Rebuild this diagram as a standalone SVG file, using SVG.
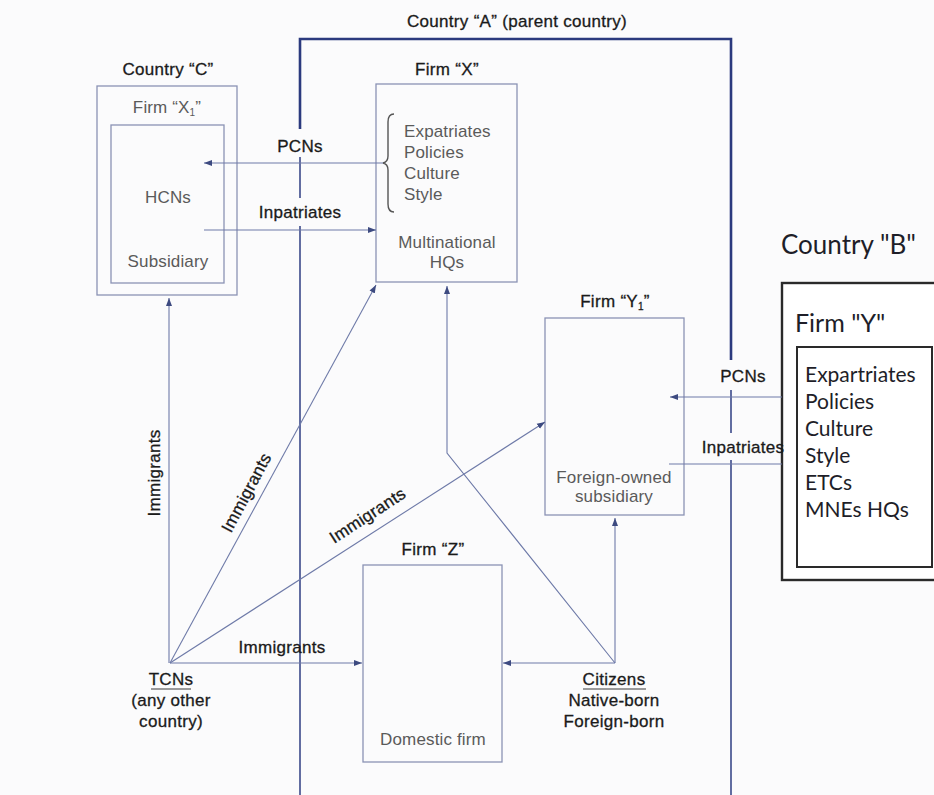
<svg xmlns="http://www.w3.org/2000/svg" width="934" height="795" viewBox="0 0 934 795">
<style>
.t{font-family:"Liberation Sans",Arial,sans-serif;font-size:17px;letter-spacing:0.3px;fill:#1a1a1a;stroke:#1a1a1a;stroke-width:0.3px;text-anchor:middle}
.g{font-family:"Liberation Sans",Arial,sans-serif;font-size:17px;letter-spacing:0.15px;fill:#5a5a5a;text-anchor:middle}
.c{font-family:Lato,"Noto Sans",sans-serif;fill:#1e1e28}
.box{fill:none;stroke:#8a92b4;stroke-width:1.3}
.ln{fill:none;stroke:#6e7aa8;stroke-width:1.1}
.thick{fill:none;stroke:#2b3a7e;stroke-width:2.6}
.med{fill:none;stroke:#3b4a8a;stroke-width:1.6}
.arr{marker-end:url(#ah)}
</style>
<defs>
<marker id="ah" markerUnits="userSpaceOnUse" markerWidth="9" markerHeight="7" refX="8" refY="3.5" orient="auto">
<path d="M0,0.5 L8,3.5 L0,6.5 z" fill="#3d4a80"/>
</marker>
</defs>
<rect width="934" height="795" fill="#fbfbfc"/>

<g id="country-a">
<text class="t" x="517" y="27">Country “A” (parent country)</text>
<path class="thick" d="M300,129 V39 H731 V360"/>
<line class="med" x1="300" y1="157" x2="300" y2="198" stroke-width="1.2"/>
<line class="med" x1="300" y1="226" x2="300" y2="795"/>
<line class="med" x1="731" y1="390" x2="731" y2="433" stroke-width="1.2"/>
<line class="med" x1="731" y1="460" x2="731" y2="795"/>
</g>

<g id="country-c">
<text class="t" x="168" y="75">Country “C”</text>
<rect class="box" x="97" y="86" width="140" height="209"/>
<text class="g" x="167" y="113">Firm “X<tspan font-size="10" dy="3">1</tspan><tspan dy="-3">”</tspan></text>
<rect class="box" x="111" y="125" width="113" height="158"/>
<text class="g" x="168" y="203">HCNs</text>
<text class="g" x="168" y="267">Subsidiary</text>
</g>

<g id="firm-x">
<text class="t" x="447" y="75">Firm “X”</text>
<rect class="box" x="376" y="84" width="141" height="198"/>
<path d="M394,114 Q388,114 388,122 V156 Q388,162 383,163 Q388,164 388,170 V204 Q388,212 394,212" fill="none" stroke="#555" stroke-width="1.4"/>
<text class="g" x="404" y="137" style="text-anchor:start">Expatriates</text>
<text class="g" x="404" y="158" style="text-anchor:start">Policies</text>
<text class="g" x="404" y="179" style="text-anchor:start">Culture</text>
<text class="g" x="404" y="200" style="text-anchor:start">Style</text>
<text class="g" x="447" y="248">Multinational</text>
<text class="g" x="447" y="268">HQs</text>
</g>

<g id="firm-y1">
<text class="t" x="615" y="307">Firm “Y<tspan font-size="10" dy="3">1</tspan><tspan dy="-3">”</tspan></text>
<rect class="box" x="545" y="318" width="139" height="197"/>
<text class="g" x="614" y="483">Foreign-owned</text>
<text class="g" x="614" y="502">subsidiary</text>
</g>

<g id="firm-z">
<text class="t" x="433" y="555">Firm “Z”</text>
<rect class="box" x="363" y="565" width="139" height="197"/>
<text class="g" x="433" y="745">Domestic firm</text>
</g>

<g id="country-b">
<text class="c" x="781" y="254" font-size="26">Country "B"</text>
<rect x="782" y="283" width="160" height="297" fill="#ffffff" stroke="#2a2a2a" stroke-width="2.4"/>
<text class="c" x="795" y="332" font-size="25">Firm "Y"</text>
<rect x="797" y="347" width="135" height="220" fill="#ffffff" stroke="#2a2a2a" stroke-width="2"/>
<g class="c" font-size="21">
<text x="805" y="382">Expartriates</text>
<text x="805" y="409">Policies</text>
<text x="805" y="436">Culture</text>
<text x="805" y="463">Style</text>
<text x="805" y="490">ETCs</text>
<text x="805" y="517">MNEs HQs</text>
</g>
</g>

<g id="tcns">
<text class="t" x="171" y="685">TCNs</text>
<line x1="151" y1="689" x2="191" y2="689" stroke="#3a3a3a" stroke-width="1.2"/>
<text class="t" x="171" y="706">(any other</text>
<text class="t" x="171" y="727">country)</text>
</g>

<g id="citizens">
<text class="t" x="614" y="685">Citizens</text>
<line x1="583" y1="689" x2="646" y2="689" stroke="#3a3a3a" stroke-width="1.2"/>
<text class="t" x="614" y="706">Native-born</text>
<text class="t" x="614" y="727">Foreign-born</text>
</g>

<g id="connectors">
<line class="ln arr" x1="383" y1="163" x2="204" y2="163"/>
<line class="ln arr" x1="204" y1="230" x2="376" y2="230"/>
<line class="ln arr" x1="782" y1="397" x2="670" y2="397"/>
<line class="ln" x1="669" y1="464" x2="782" y2="464"/>
<line class="ln arr" x1="169" y1="663" x2="169" y2="298"/>
<line class="ln arr" x1="170" y1="663" x2="376" y2="285"/>
<line class="ln arr" x1="170" y1="663" x2="545" y2="422"/>
<line class="ln arr" x1="170" y1="663" x2="362" y2="663"/>
<line class="ln arr" x1="615" y1="663" x2="503" y2="663"/>
<line class="ln arr" x1="615" y1="663" x2="615" y2="518"/>
<path class="ln arr" d="M615,663 L447,453 V286"/>
<text class="t" x="300" y="152">PCNs</text>
<text class="t" x="300" y="218">Inpatriates</text>
<text class="t" x="743" y="382">PCNs</text>
<text class="t" x="743" y="453">Inpatriates</text>
<text class="t" x="282" y="653">Immigrants</text>
<text class="t" transform="translate(160,473) rotate(-90)" x="0" y="0">Immigrants</text>
<text class="t" transform="translate(247,493) rotate(-62)" x="0" y="5">Immigrants</text>
<text class="t" transform="translate(368,516) rotate(-33)" x="0" y="5">Immigrants</text>
</g>
</svg>
